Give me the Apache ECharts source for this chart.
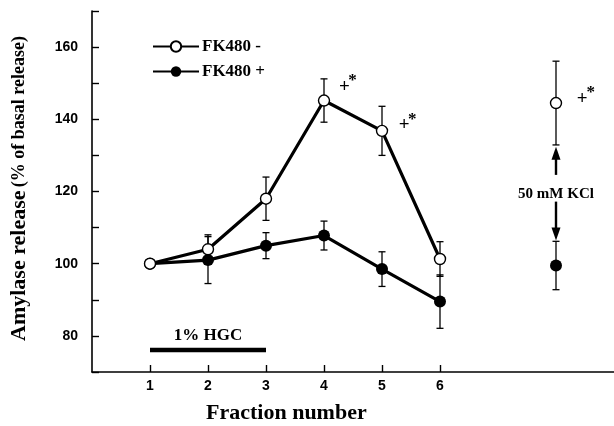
<!DOCTYPE html>
<html>
<head>
<meta charset="utf-8">
<script src="https://cdn.jsdelivr.net/npm/echarts@6/dist/echarts.min.js"></script>
<style>
  html, body { margin: 0; padding: 0; background: #fff; }
  #main { width: 614px; height: 426px; }
</style>
</head>
<body>
<div id="main"></div>
<script>
// values
const fractions = [1, 2, 3, 4, 5, 6];
const fkMinus = [100, 104, 118, 145.2, 136.8, 101.3];
const fkMinusSem = [0, 4, 6, 6, 6.8, 4.8];
const fkPlus = [100, 101, 105, 107.8, 98.5, 89.5];
const fkPlusSem = [0, 6.5, 3.6, 4, 4.8, 7.4];
const kclFraction = 8;
const kclMinus = [144.5];
const kclMinusSem = [11.6];
const kclPlus = [99.5];
const kclPlusSem = [6.7];
const yTickLabels = [80, 100, 120, 140, 160];
const xTickLabels = [1, 2, 3, 4, 5, 6];

const serif = 'Liberation Serif';
const sans = 'Liberation Sans';

const pairs = (xs, ys) => xs.map((x, i) => [x, ys[i]]);
const errRows = (xs, ys, es) => xs.map((x, i) => [x, ys[i] - es[i], ys[i] + es[i]]);

const errData = errRows(fractions, fkMinus, fkMinusSem)
  .concat(errRows(fractions, fkPlus, fkPlusSem))
  .concat(errRows([kclFraction], kclMinus, kclMinusSem))
  .concat(errRows([kclFraction], kclPlus, kclPlusSem))
  .filter(r => r[2] > r[1]);

function renderErr(params, api) {
  const lo = api.coord([api.value(0), api.value(1)]);
  const hi = api.coord([api.value(0), api.value(2)]);
  const w = 3.5;
  const st = { stroke: '#000', lineWidth: 1.3 };
  return {
    type: 'group',
    children: [
      { type: 'line', shape: { x1: lo[0], y1: lo[1], x2: hi[0], y2: hi[1] }, style: st },
      { type: 'line', shape: { x1: lo[0] - w, y1: lo[1], x2: lo[0] + w, y2: lo[1] }, style: st },
      { type: 'line', shape: { x1: hi[0] - w, y1: hi[1], x2: hi[0] + w, y2: hi[1] }, style: st }
    ]
  };
}

const openStyle = { color: '#fff', borderColor: '#000', borderWidth: 1.4, opacity: 1 };
const fillStyle = { color: '#000', borderColor: '#000', borderWidth: 0, opacity: 1 };

const textLabel = (size) => ({
  show: true, position: 'inside', color: '#000', opacity: 1,
  fontFamily: serif, fontWeight: 'bold', fontSize: size
});

const chart = echarts.init(document.getElementById('main'), null, { renderer: 'canvas' });

chart.setOption({
  animation: false,
  backgroundColor: '#fff',
  grid: { left: 90, right: 0, top: 11, bottom: 54 },
  legend: {
    data: ['FK480 -', 'FK480 +'],
    orient: 'vertical',
    left: 147,
    top: 33,
    itemWidth: 46,
    itemHeight: 13,
    itemGap: 8,
    textStyle: { fontFamily: serif, fontWeight: 'bold', fontSize: 17, color: '#000', padding: [0, 0, 0, -2] }
  },
  xAxis: {
    type: 'value',
    min: 0,
    max: 9,
    interval: 1,
    splitLine: { show: false },
    axisLine: { lineStyle: { color: '#000', width: 1.6 } },
    axisTick: { inside: true, length: 7, customValues: xTickLabels, lineStyle: { color: '#000', width: 1.4 } },
    axisLabel: {
      customValues: xTickLabels, margin: 7,
      fontFamily: sans, fontWeight: 'bold', fontSize: 14, color: '#000'
    }
  },
  yAxis: {
    type: 'value',
    min: 70,
    max: 170,
    interval: 10,
    splitLine: { show: false },
    axisLine: { show: true, lineStyle: { color: '#000', width: 1.6 } },
    axisTick: { show: true, inside: true, length: 7, lineStyle: { color: '#000', width: 1.4 } },
    axisLabel: {
      margin: 14,
      fontFamily: sans, fontWeight: 'bold', fontSize: 14, color: '#000',
      formatter: v => (yTickLabels.indexOf(v) >= 0 ? String(v) : '')
    },
    name: '{a|Amylase release} {b|(% of basal release)}',
    nameLocation: 'middle',
    nameGap: 62,
    nameTextStyle: {
      color: '#000',
      padding: [0, 0, 0, 6],
      rich: {
        a: { fontFamily: serif, fontWeight: 'bold', fontSize: 22, color: '#000' },
        b: { fontFamily: serif, fontWeight: 'bold', fontSize: 18, color: '#000' }
      }
    }
  },
  graphic: [{
    type: 'text', left: 206, top: 402,
    style: { text: 'Fraction number', font: 'bold 22px "Liberation Serif"', fill: '#000' }
  }],
  series: [
    {
      type: 'custom', name: 'err', renderItem: renderErr, data: errData,
      encode: { x: 0, y: [1, 2] }, z: 1, silent: true
    },
    {
      type: 'line', name: 'HGC', data: [[1, 76.1], [3, 76.1]], symbol: 'none',
      lineStyle: { color: '#000', width: 4.5 }, silent: true, z: 2
    },
    {
      type: 'line', name: 'FK480 +', data: pairs(fractions, fkPlus),
      symbol: 'circle', symbolSize: 12,
      lineStyle: { color: '#000', width: 3.2 }, itemStyle: fillStyle, z: 3
    },
    {
      type: 'line', name: 'FK480 -', data: pairs(fractions, fkMinus),
      symbol: 'circle', symbolSize: 11,
      lineStyle: { color: '#000', width: 3.2 }, itemStyle: openStyle, z: 4
    },
    {
      type: 'scatter', name: 'KCl -', data: pairs([kclFraction], kclMinus),
      symbol: 'circle', symbolSize: 11, itemStyle: openStyle, z: 4
    },
    {
      type: 'scatter', name: 'KCl +', data: pairs([kclFraction], kclPlus),
      symbol: 'circle', symbolSize: 12, itemStyle: fillStyle, z: 4,
      markLine: {
        silent: true,
        symbol: ['none', 'triangle'],
        symbolSize: [9, 13],
        label: { show: false },
        lineStyle: { color: '#000', width: 2.4, type: 'solid', opacity: 1 },
        data: [
          [{ coord: [kclFraction, 124.6] }, { coord: [kclFraction, 130.6] }],
          [{ coord: [kclFraction, 117.2] }, { coord: [kclFraction, 108.2] }]
        ]
      }
    },
    {
      type: 'scatter', name: 'notes', symbolSize: 0, silent: true, z: 5,
      itemStyle: { opacity: 1 },
      data: [
        { value: [2, 80], label: Object.assign(textLabel(17), { formatter: '1% HGC' }) },
        { value: [kclFraction, 119.3], label: Object.assign(textLabel(15), { formatter: '50 mM KCl' }) },
        { value: [4.35, 148.9], label: Object.assign(textLabel(19), { formatter: '+' }) },
        { value: [4.49, 150.6], label: Object.assign(textLabel(17), { formatter: '*' }) },
        { value: [5.38, 138.3], label: Object.assign(textLabel(19), { formatter: '+' }) },
        { value: [5.52, 140.0], label: Object.assign(textLabel(17), { formatter: '*' }) },
        { value: [8.45, 145.6], label: Object.assign(textLabel(19), { formatter: '+' }) },
        { value: [8.6, 147.4], label: Object.assign(textLabel(17), { formatter: '*' }) }
      ]
    }
  ]
});
</script>
</body>
</html>
